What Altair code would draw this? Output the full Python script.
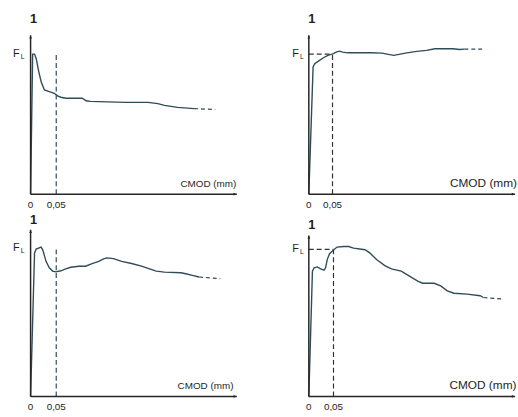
import altair as alt
import pandas as pd

# ---------------- data (CMOD in mm, load as F/FL) ----------------
# panel 1 (top-left)
p1_cmod = [0.0, 0.004, 0.0077, 0.011, 0.016, 0.0206, 0.0269, 0.0365, 0.0462, 0.0525,
           0.059, 0.0687, 0.1006, 0.1083, 0.1167, 0.184, 0.229, 0.248, 0.261, 0.2865, 0.3187]
p1_load = [0.0, 1.0, 1.0, 0.967, 0.873, 0.803, 0.744, 0.732, 0.720, 0.702,
           0.692, 0.685, 0.685, 0.667, 0.662, 0.655, 0.655, 0.646, 0.634, 0.620, 0.611]
p1_tail_cmod = [0.3187, 0.36]
p1_tail_load = [0.611, 0.604]

# panel 2 (top-right)
p2_cmod = [0.0, 0.009, 0.0125, 0.0194, 0.0299, 0.0403, 0.0507, 0.0576, 0.0646, 0.0715,
           0.082, 0.1306, 0.1549, 0.1653, 0.1792, 0.193, 0.2069, 0.2278, 0.2486, 0.266,
           0.2833, 0.3042, 0.3181, 0.3285]
p2_load = [0.0, 0.908, 0.932, 0.948, 0.972, 0.991, 1.002, 1.014, 1.021, 1.014,
           1.009, 1.009, 1.007, 1.0, 0.991, 1.0, 1.009, 1.019, 1.026, 1.038,
           1.038, 1.038, 1.033, 1.035]
p2_tail_cmod = [0.3285, 0.3667]
p2_tail_load = [1.035, 1.035]

# panel 3 (bottom-left)
p3_cmod = [0.0, 0.0077, 0.0109, 0.0205, 0.0237, 0.0301, 0.0365, 0.0429, 0.0494, 0.059,
           0.0686, 0.0782, 0.0942, 0.1071, 0.1199, 0.1327, 0.1423, 0.1487, 0.1615, 0.1776,
           0.1968, 0.216, 0.232, 0.2449, 0.2609, 0.2929, 0.3026, 0.3154, 0.3282]
p3_load = [0.0, 0.969, 0.996, 1.009, 0.991, 0.913, 0.869, 0.847, 0.842, 0.849,
           0.862, 0.873, 0.88, 0.88, 0.898, 0.913, 0.929, 0.936, 0.931, 0.913,
           0.898, 0.88, 0.862, 0.847, 0.84, 0.836, 0.829, 0.818, 0.807]
p3_tail_cmod = [0.3282, 0.3699]
p3_tail_load = [0.807, 0.796]

# panel 4 (bottom-right)
p4_cmod = [0.0, 0.0073, 0.0107, 0.0173, 0.024, 0.0307, 0.034, 0.0373, 0.042, 0.0507,
           0.0573, 0.0707, 0.0807, 0.0907, 0.114, 0.124, 0.1373, 0.154, 0.1673, 0.1873,
           0.204, 0.2207, 0.2307, 0.254, 0.2673, 0.2807, 0.294, 0.3207, 0.3473, 0.354]
p4_load = [0.0, 0.852, 0.875, 0.881, 0.868, 0.859, 0.875, 0.931, 0.971, 0.998,
           1.016, 1.02, 1.02, 1.009, 0.998, 0.975, 0.931, 0.89, 0.868, 0.852,
           0.819, 0.785, 0.77, 0.77, 0.752, 0.718, 0.702, 0.696, 0.685, 0.673]
p4_tail_cmod = [0.354, 0.394]
p4_tail_load = [0.673, 0.662]

tick_labels = ["0", "0,05"]
tick_values = [0.0, 0.05]
crack_mark = 0.05
x_title = "CMOD (mm)"
panel_title = "1"

CURVE = "#2f4c58"
AXIS = "#262626"
TEXT = "#1e1e1e"
W = 209

UP_ARROW = "M0,0 L-0.45,1.1 L0.45,1.1 Z"
RIGHT_ARROW = "M0,0 L-1.1,-0.45 L-1.1,0.45 Z"


def panel(cmod, load, tcmod, tload, xmax, ymax, ytop, H, guide, dash_color, title_x,
          title_size, title_dy, one_dy, f_dx):
    xs = alt.Scale(domain=[0, xmax], nice=False, zero=False)
    ys = alt.Scale(domain=[0, ymax], nice=False, zero=False)
    X = lambda f: alt.X(f, type="quantitative", scale=xs, axis=None)
    Y = lambda f: alt.Y(f, type="quantitative", scale=ys, axis=None)

    curve_df = pd.DataFrame({"x": cmod, "y": load, "i": range(len(cmod))})
    tail_df = pd.DataFrame({"x": tcmod, "y": tload, "i": range(len(tcmod))})

    curve = alt.Chart(curve_df).mark_line(color=CURVE, strokeWidth=1.4).encode(
        x=X("x"), y=Y("y"), order="i:Q")
    tail = alt.Chart(tail_df).mark_line(color=CURVE, strokeWidth=1.2, strokeDash=[4, 3]).encode(
        x=X("x"), y=Y("y"), order="i:Q")

    yaxis_df = pd.DataFrame({"x": [0.0], "y": [0.0], "y2": [ytop]})
    xaxis_df = pd.DataFrame({"x": [0.0], "x2": [xmax], "y": [0.0]})
    yaxis = alt.Chart(yaxis_df).mark_rule(color=AXIS, strokeWidth=1.5).encode(
        x=X("x"), y=Y("y"), y2="y2")
    xaxis = alt.Chart(xaxis_df).mark_rule(color=AXIS, strokeWidth=1.5).encode(
        x=X("x"), x2="x2", y=Y("y"))
    up = alt.Chart(pd.DataFrame({"x": [0.0], "y": [ytop]})).mark_point(
        shape=UP_ARROW, filled=True, size=36, color=AXIS, opacity=1).encode(x=X("x"), y=Y("y"))
    right = alt.Chart(pd.DataFrame({"x": [xmax], "y": [0.0]})).mark_point(
        shape=RIGHT_ARROW, filled=True, size=36, color=AXIS, opacity=1).encode(x=X("x"), y=Y("y"))

    if guide == "vertical":
        gv = pd.DataFrame({"x": [crack_mark], "y": [0.0], "y2": [1.012]})
        guides = alt.Chart(gv).mark_rule(color=dash_color, strokeWidth=1.2, strokeDash=[5, 3]).encode(
            x=X("x"), y=Y("y"), y2="y2")
    else:
        gv = pd.DataFrame({"x": [crack_mark], "y": [0.0], "y2": [1.0]})
        gh = pd.DataFrame({"x": [0.0], "x2": [crack_mark], "y": [1.0]})
        guides = alt.Chart(gv).mark_rule(color=dash_color, strokeWidth=1.2, strokeDash=[5, 3]).encode(
            x=X("x"), y=Y("y"), y2="y2") + alt.Chart(gh).mark_rule(
            color=dash_color, strokeWidth=1.2, strokeDash=[5, 3]).encode(x=X("x"), x2="x2", y=Y("y"))

    ticks_df = pd.DataFrame({"x": tick_values, "y": [0.0, 0.0], "t": tick_labels})
    ticks = alt.Chart(ticks_df).mark_text(fontSize=10, baseline="top", dy=6, color=TEXT).encode(
        x=X("x"), y=Y("y"), text="t:N")

    xt = alt.Chart(pd.DataFrame({"x": [title_x], "y": [0.0], "t": [x_title]})).mark_text(
        fontSize=title_size, align="left", baseline="alphabetic", dy=title_dy, color=TEXT).encode(
        x=X("x"), y=Y("y"), text="t:N")

    one = alt.Chart(pd.DataFrame({"x": [0.0], "y": [ytop], "t": [panel_title]})).mark_text(
        fontSize=13, fontWeight="bold", align="center", baseline="alphabetic", dx=3, dy=one_dy,
        color=TEXT).encode(x=X("x"), y=Y("y"), text="t:N")

    fdf = pd.DataFrame({"x": [0.0], "y": [1.0], "t": ["F"], "s": ["L"]})
    f_lab = alt.Chart(fdf).mark_text(fontSize=11, align="right", baseline="middle", dx=f_dx, dy=0,
                                     color=TEXT).encode(x=X("x"), y=Y("y"), text="t:N")
    l_lab = alt.Chart(fdf).mark_text(fontSize=7, align="left", baseline="alphabetic", dx=f_dx + 1,
                                     dy=5, color=TEXT).encode(x=X("x"), y=Y("y"), text="s:N")

    return alt.layer(guides, curve, tail, yaxis, xaxis, up, right, ticks, xt, one, f_lab, l_lab
                     ).properties(width=W, height=H)


p1 = panel(p1_cmod, p1_load, p1_tail_cmod, p1_tail_load, W / 520, 161 / 142, 161 / 142, 161,
           "vertical", CURVE, 0.292, 10, -7, -13, -11)
p2 = panel(p2_cmod, p2_load, p2_tail_cmod, p2_tail_load, W / 480, 161 / 142, 161 / 142, 161,
           "cross", "#333333", 0.298, 12, -7, -13, -10)
p3 = panel(p3_cmod, p3_load, p3_tail_cmod, p3_tail_load, W / 520, 169 / 150, 169 / 150, 169,
           "vertical", CURVE, 0.2865, 10, -8, -6, -11)
p4 = panel(p4_cmod, p4_load, p4_tail_cmod, p4_tail_load, W / 500, 169 / 149, 1.094, 169,
           "cross", "#333333", 0.285, 12, -8, -7, -10)

chart = alt.ConcatChart(
    concat=[p1, p2, p3, p4], columns=2,
    spacing={"row": 36, "column": 73}, bounds="flush"
).resolve_scale(
    x="independent", y="independent"
).properties(
    padding={"left": 13, "top": 10, "right": 0, "bottom": 0}, background="white"
).configure_view(stroke=None).configure_text(font="Liberation Sans")

chart.save("out.html", embed_options={"renderer": "svg", "actions": False})
